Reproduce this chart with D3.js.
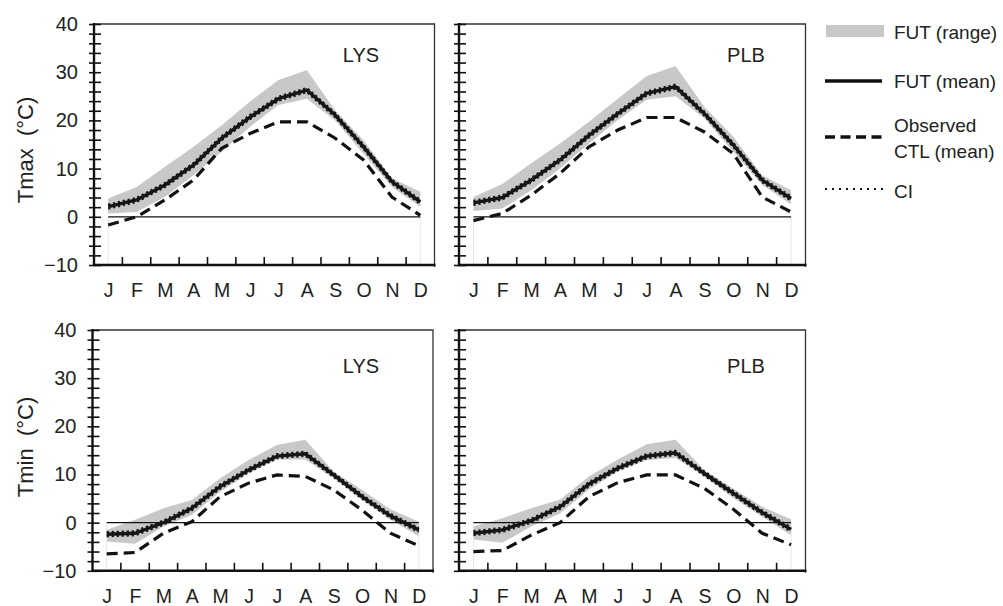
<!DOCTYPE html>
<html>
<head>
<meta charset="utf-8">
<script src="https://cdn.jsdelivr.net/npm/d3@7"></script>
<style>
  body { margin: 0; background: #fff; }
  svg { font-family: "Liberation Sans", Arial, sans-serif; }
</style>
</head>
<body>
<svg width="1003" height="606"></svg>
<script>
var months = ["J", "F", "M", "A", "M", "J", "J", "A", "S", "O", "N", "D"];
var yTickLabels = [-10, 0, 10, 20, 30, 40];

// LYS Tmax
var lysTmaxMean = [2.1, 3.5, 6.6, 10.7, 16.3, 20.7, 24.5, 26.3, 21.1, 14.5, 7.3, 3.1];
var lysTmaxHi   = [3.8, 6.2, 10.4, 14.5, 19.0, 23.9, 28.4, 30.4, 22.1, 15.9, 8.0, 5.2];
var lysTmaxLo   = [0.7, 1.0, 4.1, 8.6, 13.5, 18.7, 23.2, 24.5, 20.0, 13.1, 6.2, 2.1];
var lysTmaxCtl  = [-1.7, 0.0, 3.5, 7.6, 14.2, 17.3, 19.7, 19.7, 16.3, 11.8, 4.1, 0.3];
var lysTmaxCiLo = [1.7, 3.1, 6.2, 10.3, 15.9, 20.3, 24.1, 25.9, 20.7, 14.1, 6.9, 2.7];
var lysTmaxCiHi = [2.5, 3.9, 7.0, 11.1, 16.7, 21.1, 24.9, 26.7, 21.5, 14.9, 7.7, 3.5];

// PLB Tmax
var plbTmaxMean = [2.9, 4.0, 7.6, 11.8, 16.9, 21.4, 25.6, 27.0, 21.4, 14.9, 7.6, 3.8];
var plbTmaxHi   = [4.1, 6.8, 11.1, 15.2, 19.7, 24.5, 29.2, 31.3, 22.8, 16.6, 8.6, 5.5];
var plbTmaxLo   = [1.2, 1.7, 5.5, 10.0, 15.2, 20.1, 24.3, 25.0, 20.4, 13.5, 6.6, 2.6];
var plbTmaxCtl  = [-0.8, 0.7, 4.5, 9.0, 14.5, 18.0, 20.6, 20.6, 17.6, 13.1, 4.1, 1.0];
var plbTmaxCiLo = [2.5, 3.6, 7.2, 11.4, 16.5, 21.0, 25.2, 26.6, 21.0, 14.5, 7.2, 3.4];
var plbTmaxCiHi = [3.3, 4.4, 8.0, 12.2, 17.3, 21.8, 26.0, 27.4, 21.8, 15.3, 8.0, 4.2];

// LYS Tmin
var lysTminMean = [-2.4, -2.2, 0.0, 3.0, 7.5, 10.9, 13.8, 14.3, 9.9, 5.4, 1.4, -1.5];
var lysTminHi   = [-1.5, 0.6, 3.0, 4.7, 9.2, 13.0, 16.1, 17.2, 10.6, 6.8, 2.8, 0.2];
var lysTminLo   = [-3.9, -4.4, -0.8, 1.6, 6.4, 10.2, 13.1, 13.1, 9.2, 4.7, 0.6, -2.8];
var lysTminCtl  = [-6.5, -6.2, -2.2, 0.2, 5.4, 8.2, 9.9, 9.6, 6.8, 2.6, -2.2, -4.8];
var lysTminCiLo = [-2.8, -2.6, -0.4, 2.6, 7.1, 10.5, 13.4, 13.9, 9.5, 5.0, 1.0, -1.9];
var lysTminCiHi = [-2.0, -1.8, 0.4, 3.4, 7.9, 11.3, 14.2, 14.7, 10.3, 5.8, 1.8, -1.1];

// PLB Tmin
var plbTminMean = [-2.2, -1.5, 0.4, 3.3, 8.0, 11.3, 13.8, 14.5, 10.2, 6.1, 2.1, -1.4];
var plbTminHi   = [-0.8, 0.9, 3.0, 4.8, 9.6, 13.1, 16.3, 17.2, 10.9, 7.1, 3.3, 0.7];
var plbTminLo   = [-3.5, -4.2, -0.8, 1.9, 6.9, 10.6, 13.0, 13.4, 9.6, 5.1, 1.2, -2.6];
var plbTminCtl  = [-6.0, -5.8, -2.6, 0.0, 5.4, 8.3, 9.9, 9.9, 7.1, 2.8, -2.2, -4.6];
var plbTminCiLo = [-2.6, -1.9, 0.0, 2.9, 7.6, 10.9, 13.4, 14.1, 9.8, 5.7, 1.7, -1.8];
var plbTminCiHi = [-1.8, -1.1, 0.8, 3.7, 8.4, 11.7, 14.2, 14.9, 10.6, 6.5, 2.5, -1.0];

var bandColor = "#c8c8c8";

var panels = [
  {name: "LYS", x0: 94, x1: 434.5, y0: 24, y1: 265, labX: 361, labY: 62, yLabels: true,
   mean: lysTmaxMean, hi: lysTmaxHi, lo: lysTmaxLo, ctl: lysTmaxCtl, ciLo: lysTmaxCiLo, ciHi: lysTmaxCiHi},
  {name: "PLB", x0: 459, x1: 805.5, y0: 24, y1: 265, labX: 746, labY: 62, yLabels: false,
   mean: plbTmaxMean, hi: plbTmaxHi, lo: plbTmaxLo, ctl: plbTmaxCtl, ciLo: plbTmaxCiLo, ciHi: plbTmaxCiHi},
  {name: "LYS", x0: 92.5, x1: 433, y0: 330, y1: 570.8, labX: 361, labY: 373, yLabels: true,
   mean: lysTminMean, hi: lysTminHi, lo: lysTminLo, ctl: lysTminCtl, ciLo: lysTminCiLo, ciHi: lysTminCiHi},
  {name: "PLB", x0: 459, x1: 805.5, y0: 330, y1: 570.8, labX: 746, labY: 373, yLabels: false,
   mean: plbTminMean, hi: plbTminHi, lo: plbTminLo, ctl: plbTminCtl, ciLo: plbTminCiLo, ciHi: plbTminCiHi}
];

var svg = d3.select("svg");

panels.forEach(function(p) {
  var x = d3.scaleLinear().domain([-0.5, 11.5]).range([p.x0, p.x1]);
  var y = d3.scaleLinear().domain([-10, 40]).range([p.y1, p.y0]);
  var g = svg.append("g");

  var area = d3.area()
    .x(function(d, i) { return x(i); })
    .y0(function(d, i) { return y(p.lo[i]); })
    .y1(function(d, i) { return y(p.hi[i]); });
  var line = function(arr) {
    return d3.line()
      .x(function(d, i) { return x(i); })
      .y(function(d) { return y(d); })(arr);
  };

  // range band
  g.append("path")
    .datum(p.mean)
    .attr("d", area)
    .attr("fill", bandColor);

  // faint verticals at J and D
  [0, 11].forEach(function(m) {
    g.append("line")
      .attr("x1", x(m)).attr("x2", x(m))
      .attr("y1", y(0)).attr("y2", p.y1)
      .attr("stroke", "#e6e6e6").attr("stroke-width", 1);
  });

  // zero line
  g.append("line")
    .attr("x1", x(0)).attr("x2", x(11))
    .attr("y1", y(0)).attr("y2", y(0))
    .attr("stroke", "#111").attr("stroke-width", 1.2);

  // observed CTL
  g.append("path")
    .attr("d", line(p.ctl))
    .attr("fill", "none")
    .attr("stroke", "#111")
    .attr("stroke-width", 3.2)
    .attr("stroke-dasharray", "11,6");

  // FUT mean
  g.append("path")
    .attr("d", line(p.mean))
    .attr("fill", "none")
    .attr("stroke", "#161616")
    .attr("stroke-width", 3.4)
    .attr("stroke-linejoin", "round");

  // CI
  [p.ciLo, p.ciHi].forEach(function(arr) {
    g.append("path")
      .attr("d", line(arr))
      .attr("fill", "none")
      .attr("stroke", "#161616")
      .attr("stroke-width", 2.4)
      .attr("stroke-dasharray", "2.2,2.8");
  });

  // frame top/right
  g.append("path")
    .attr("d", "M" + p.x0 + "," + p.y0 + "H" + p.x1 + "V" + (p.y1 + 2))
    .attr("fill", "none")
    .attr("stroke", "#333")
    .attr("stroke-width", 1.3);

  // y axis
  var yAxis = g.append("g")
    .attr("transform", "translate(" + p.x0 + ",0)")
    .call(d3.axisLeft(y)
      .tickValues(d3.range(-10, 41, 2))
      .tickSize(5)
      .tickPadding(11)
      .tickFormat(function(d) {
        if (!p.yLabels || yTickLabels.indexOf(d) < 0) return "";
        return d < 0 ? "\u2212" + Math.abs(d) : d;
      }));
  yAxis.select(".domain").remove();
  yAxis.selectAll(".tick line").attr("x1", 7).attr("stroke", "#111").attr("stroke-width", 1.6);
  yAxis.selectAll(".tick text")
    .attr("font-size", 20)
    .attr("fill", "#222")
    .style("font-family", "Liberation Sans, Arial, sans-serif");

  // x axis labels
  var xAxis = g.append("g")
    .attr("transform", "translate(0," + p.y1 + ")")
    .call(d3.axisBottom(x)
      .tickValues(d3.range(0, 12))
      .tickSize(0)
      .tickPadding(18)
      .tickFormat(function(d) { return months[d]; }));
  xAxis.select(".domain").remove();
  xAxis.selectAll(".tick text")
    .attr("font-size", 19.5)
    .attr("fill", "#222")
    .style("font-family", "Liberation Sans, Arial, sans-serif");

  // x ticks at month boundaries
  g.selectAll(".mtick")
    .data(d3.range(0, 11))
    .enter().append("line")
    .attr("x1", function(d) { return x(d + 0.5); })
    .attr("x2", function(d) { return x(d + 0.5); })
    .attr("y1", p.y1)
    .attr("y2", p.y1 - 8)
    .attr("stroke", "#111")
    .attr("stroke-width", 1.6);

  // axis lines
  g.append("line")
    .attr("x1", p.x0).attr("x2", p.x0)
    .attr("y1", p.y0 - 1).attr("y2", p.y1 + 1)
    .attr("stroke", "#111").attr("stroke-width", 2.4);
  g.append("line")
    .attr("x1", p.x0 - 1).attr("x2", p.x1 + 1)
    .attr("y1", p.y1).attr("y2", p.y1)
    .attr("stroke", "#111").attr("stroke-width", 2.4);

  // station label
  g.append("text")
    .attr("x", p.labX)
    .attr("y", p.labY)
    .attr("text-anchor", "middle")
    .attr("font-size", 20)
    .attr("fill", "#222")
    .text(p.name);
});

// y titles
svg.append("text")
  .attr("transform", "translate(33,150) rotate(-90)")
  .attr("text-anchor", "middle")
  .attr("font-size", 22)
  .attr("fill", "#222")
  .attr("xml:space", "preserve")
  .text("Tmax  (\u00b0C)");
svg.append("text")
  .attr("transform", "translate(33,447) rotate(-90)")
  .attr("text-anchor", "middle")
  .attr("font-size", 22)
  .attr("fill", "#222")
  .attr("xml:space", "preserve")
  .text("Tmin  (\u00b0C)");

// legend
var leg = svg.append("g");
leg.append("rect")
  .attr("x", 826).attr("y", 25)
  .attr("width", 58).attr("height", 12)
  .attr("fill", bandColor);
leg.append("line")
  .attr("x1", 825).attr("x2", 882).attr("y1", 81).attr("y2", 81)
  .attr("stroke", "#111").attr("stroke-width", 3.4);
leg.append("line")
  .attr("x1", 825).attr("x2", 882).attr("y1", 137).attr("y2", 137)
  .attr("stroke", "#111").attr("stroke-width", 3.4)
  .attr("stroke-dasharray", "10,5.5");
leg.append("line")
  .attr("x1", 825).attr("x2", 884).attr("y1", 189).attr("y2", 189)
  .attr("stroke", "#111").attr("stroke-width", 2.2)
  .attr("stroke-dasharray", "2,5");

var legText = [
  {t: "FUT (range)", y: 39},
  {t: "FUT (mean)", y: 88},
  {t: "Observed", y: 132},
  {t: "CTL (mean)", y: 158},
  {t: "CI", y: 198}
];
leg.selectAll(".lt")
  .data(legText)
  .enter().append("text")
  .attr("x", 894)
  .attr("y", function(d) { return d.y; })
  .attr("font-size", 19)
  .attr("fill", "#222")
  .text(function(d) { return d.t; });
</script>
</body>
</html>
